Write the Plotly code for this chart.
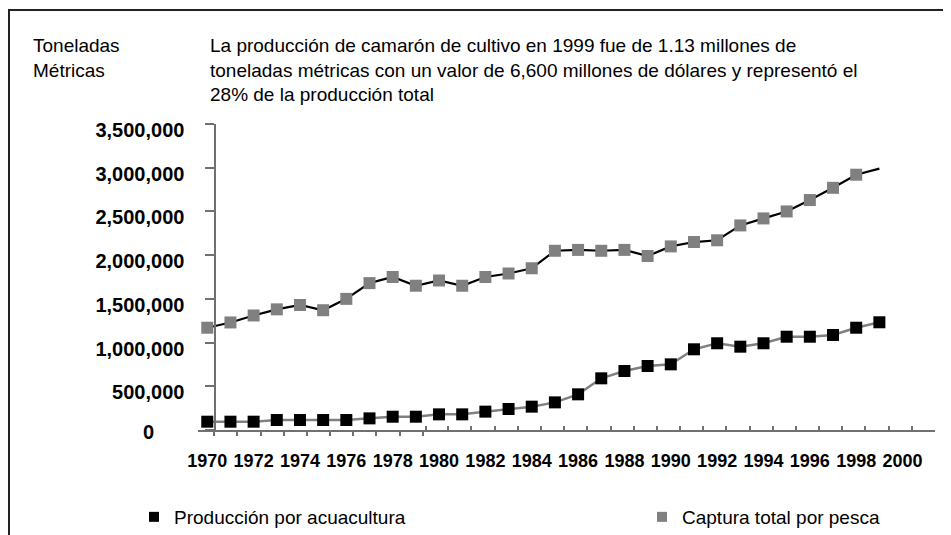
import plotly.graph_objects as go

years = list(range(1970, 2000))
captura = [1170000, 1230000, 1310000, 1380000, 1430000, 1370000, 1500000, 1680000,
           1750000, 1650000, 1710000, 1650000, 1750000, 1790000, 1850000, 2050000,
           2060000, 2050000, 2060000, 1990000, 2100000, 2150000, 2170000, 2340000,
           2420000, 2500000, 2630000, 2770000, 2920000, 2990000]
acuacultura = [95000, 95000, 95000, 114000, 114000, 114000, 114000, 133000,
               152000, 152000, 179000, 179000, 210000, 240000, 267000, 316000,
               408000, 591000, 675000, 732000, 751000, 923000, 992000, 953000,
               992000, 1067000, 1067000, 1087000, 1170000, 1232000]
x_ticks = list(range(1970, 2001, 2))
y_ticks = [0, 500000, 1000000, 1500000, 2000000, 2500000, 3000000, 3500000]
y_labels = ["", "500,000", "1,000,000", "1,500,000", "2,000,000", "2,500,000",
            "3,000,000", "3,500,000"]

FONT = "Liberation Sans, Arial, sans-serif"
GRAY = "#808080"
AXIS = "#707070"

# page body has an 8px default margin; work in window pixels
OFF = 8
W, H = 951 - OFF, 535 - OFF
L, R, T, B = 198 - OFF, W - (935 - OFF), 124 - OFF, H - (430 - OFF)
PW, PH = W - L - R, H - T - B
XR = [1969.6, 2001.4]


def wx(p):
    return (p - OFF - L) / PW


def wy(p):
    return (H - B - (p - OFF)) / PH


# small tick marks along the time axis (below on the left part, above on the right)
ticks_below = [1970.3 + i for i in range(10)]
ticks_above = [1979.45] + [1980.4 + i for i in range(21)]

fig = go.Figure()
fig.add_trace(go.Scatter(x=years, y=acuacultura, mode="lines",
                         line=dict(color=GRAY, width=2.5), showlegend=False,
                         hoverinfo="skip", cliponaxis=False))
fig.add_trace(go.Scatter(x=years, y=captura, mode="lines",
                         line=dict(color="#000000", width=2.2), showlegend=False,
                         hoverinfo="skip", cliponaxis=False))
fig.add_trace(go.Scatter(x=years, y=acuacultura, mode="markers",
                         showlegend=False,
                         marker=dict(symbol="square", size=12, color="#000000"),
                         cliponaxis=False))
fig.add_trace(go.Scatter(x=years[:-1], y=captura[:-1], mode="markers",
                         showlegend=False,
                         marker=dict(symbol="square", size=12, color=GRAY),
                         cliponaxis=False))
# legend entries
fig.add_trace(go.Scatter(x=[None], y=[None], mode="markers",
                         name="Producción por acuacultura", legend="legend",
                         marker=dict(symbol="square", size=10, color="#000000")))
fig.add_trace(go.Scatter(x=[None], y=[None], mode="markers",
                         name="Captura total por pesca", legend="legend2",
                         marker=dict(symbol="square", size=10, color=GRAY)))
# carriers for the tick-only overlay axes
fig.add_trace(go.Scatter(x=[None], y=[None], xaxis="x2", showlegend=False,
                         hoverinfo="skip"))
fig.add_trace(go.Scatter(x=[None], y=[None], xaxis="x3", showlegend=False,
                         hoverinfo="skip"))

legend_font = dict(family=FONT, size=19, color="#000000")
tick_axis = dict(range=XR, overlaying="x", anchor="y", side="bottom",
                 showgrid=False, zeroline=False, showline=False,
                 showticklabels=False, tickcolor=AXIS, tickwidth=2)
fig.update_layout(
    width=W, height=H,
    margin=dict(l=L, r=R, t=T, b=B, autoexpand=False),
    paper_bgcolor="white", plot_bgcolor="white",
    font=dict(family=FONT, color="#000000"),
    xaxis=dict(range=XR, tickvals=x_ticks,
               ticktext=[str(v) for v in x_ticks],
               showgrid=False, zeroline=False, showline=True,
               linecolor=AXIS, linewidth=2, ticks="", ticklabelstandoff=13,
               tickfont=dict(family=FONT, size=18, color="#000000", weight="bold")),
    xaxis2=dict(tick_axis, tickvals=ticks_below, ticks="outside", ticklen=5),
    xaxis3=dict(tick_axis, tickvals=ticks_above, ticks="inside", ticklen=4),
    yaxis=dict(range=[0, 3500000], tickvals=y_ticks, ticktext=y_labels,
               anchor="free", position=0.0236,
               showgrid=False, zeroline=False, showline=True,
               linecolor=AXIS, linewidth=2, ticks="outside", ticklen=9,
               tickcolor=AXIS, tickwidth=2, ticklabelstandoff=17,
               ticklabelshift=6,
               tickfont=dict(family=FONT, size=20, color="#000000", weight="bold")),
    legend=dict(orientation="h", x=wx(134), xanchor="left", y=wy(517),
                yanchor="middle", font=legend_font, bgcolor="rgba(0,0,0,0)"),
    legend2=dict(orientation="h", x=wx(642), xanchor="left", y=wy(517),
                 yanchor="middle", font=legend_font, bgcolor="rgba(0,0,0,0)"),
    showlegend=True,
)

fig.add_annotation(text="0", xref="paper", yref="y", x=wx(148), y=0,
                   showarrow=False, xanchor="center", yanchor="middle", yshift=-2,
                   font=dict(family=FONT, size=20, color="#000000", weight="bold"))
fig.add_annotation(text="Toneladas<br>Métricas", xref="paper", yref="paper",
                   x=wx(31), y=wy(33), xanchor="left",
                   yanchor="top", align="left", showarrow=False,
                   font=dict(family=FONT, size=19, color="#000000"))
fig.add_annotation(text="La producción de camarón de cultivo en 1999 fue de 1.13 millones de<br>"
                        "toneladas métricas con un valor de 6,600 millones de dólares y representó el<br>"
                        "28% de la producción total",
                   xref="paper", yref="paper",
                   x=wx(208), y=wy(33), xanchor="left",
                   yanchor="top", align="left", showarrow=False,
                   font=dict(family=FONT, size=19, color="#000000"))
fig.add_shape(type="rect", xref="paper", yref="paper",
              x0=wx(9), x1=wx(945), y0=wy(560), y1=wy(10),
              line=dict(color="#222222", width=2), fillcolor="rgba(0,0,0,0)",
              layer="below")

fig.write_html("out.html")
